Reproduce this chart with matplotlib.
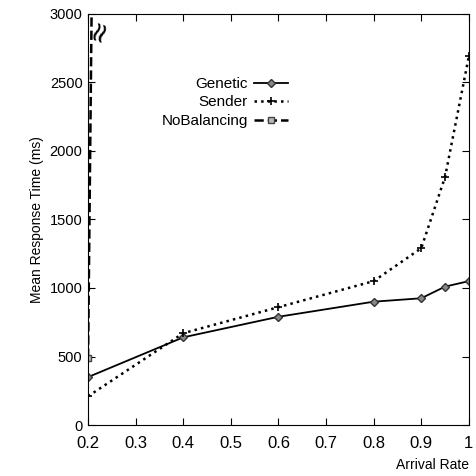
import matplotlib.pyplot as plt
import numpy as np

# data
rate = [0.2, 0.4, 0.6, 0.8, 0.9, 0.95, 1.0]
genetic = [350, 640, 790, 900, 925, 1010, 1050]
sender = [210, 670, 860, 1050, 1290, 1810, 2690]
nobal_x = [0.2, 0.208]
nobal_y = [490, 3200]

xticks = [0.2, 0.3, 0.4, 0.5, 0.6, 0.7, 0.8, 0.9, 1.0]
xticklabels = ["0.2", "0.3", "0.4", "0.5", "0.6", "0.7", "0.8", "0.9", "1"]
yticks = [0, 500, 1000, 1500, 2000, 2500, 3000]

plt.rcParams['font.family'] = ['Liberation Sans', 'DejaVu Sans']

fig = plt.figure(figsize=(4.76, 4.76), dpi=100)
ax = fig.add_axes([0.185, 0.107, 0.8, 0.864])

ax.plot(rate, genetic, '-', color='black', lw=1.3, marker='D', ms=4,
        mfc='#888888', mec='#333333', label='Genetic')
ax.plot(rate, sender, ':', color='black', lw=1.8, marker='+', ms=6,
        mew=1.2, label='Sender')
ax.plot(nobal_x, nobal_y, '--', color='black', lw=1.8, marker='s', ms=5,
        mfc='#bbbbbb', mec='#444444', label='NoBalancing', clip_on=True)

# axis break mark near the top
ax.text(0.222, 2880, '\u2248', fontsize=20, rotation=70, ha='center',
        va='center', family='DejaVu Sans')

ax.set_xlim(0.2, 1.0)
ax.set_ylim(0, 3000)
ax.set_xticks(xticks)
ax.set_xticklabels(xticklabels, fontsize=12)
ax.set_yticks(yticks)
ax.tick_params(axis='y', labelsize=10.5, pad=4)
ax.tick_params(axis='x', pad=8)
ax.tick_params(direction='in', top=True, right=True, length=5, width=0.8)

ax.set_ylabel('Mean Response Time (ms)', fontsize=10)
ax.text(1.0, -0.08, 'Arrival Rate', transform=ax.transAxes, ha='right',
        va='top', fontsize=10)

ax.legend(loc='upper right', bbox_to_anchor=(0.56, 0.88), frameon=False,
          markerfirst=False, handlelength=2.2, fontsize=11, labelspacing=0.3,
          handletextpad=0.4)

plt.savefig('out.png', dpi=100)
